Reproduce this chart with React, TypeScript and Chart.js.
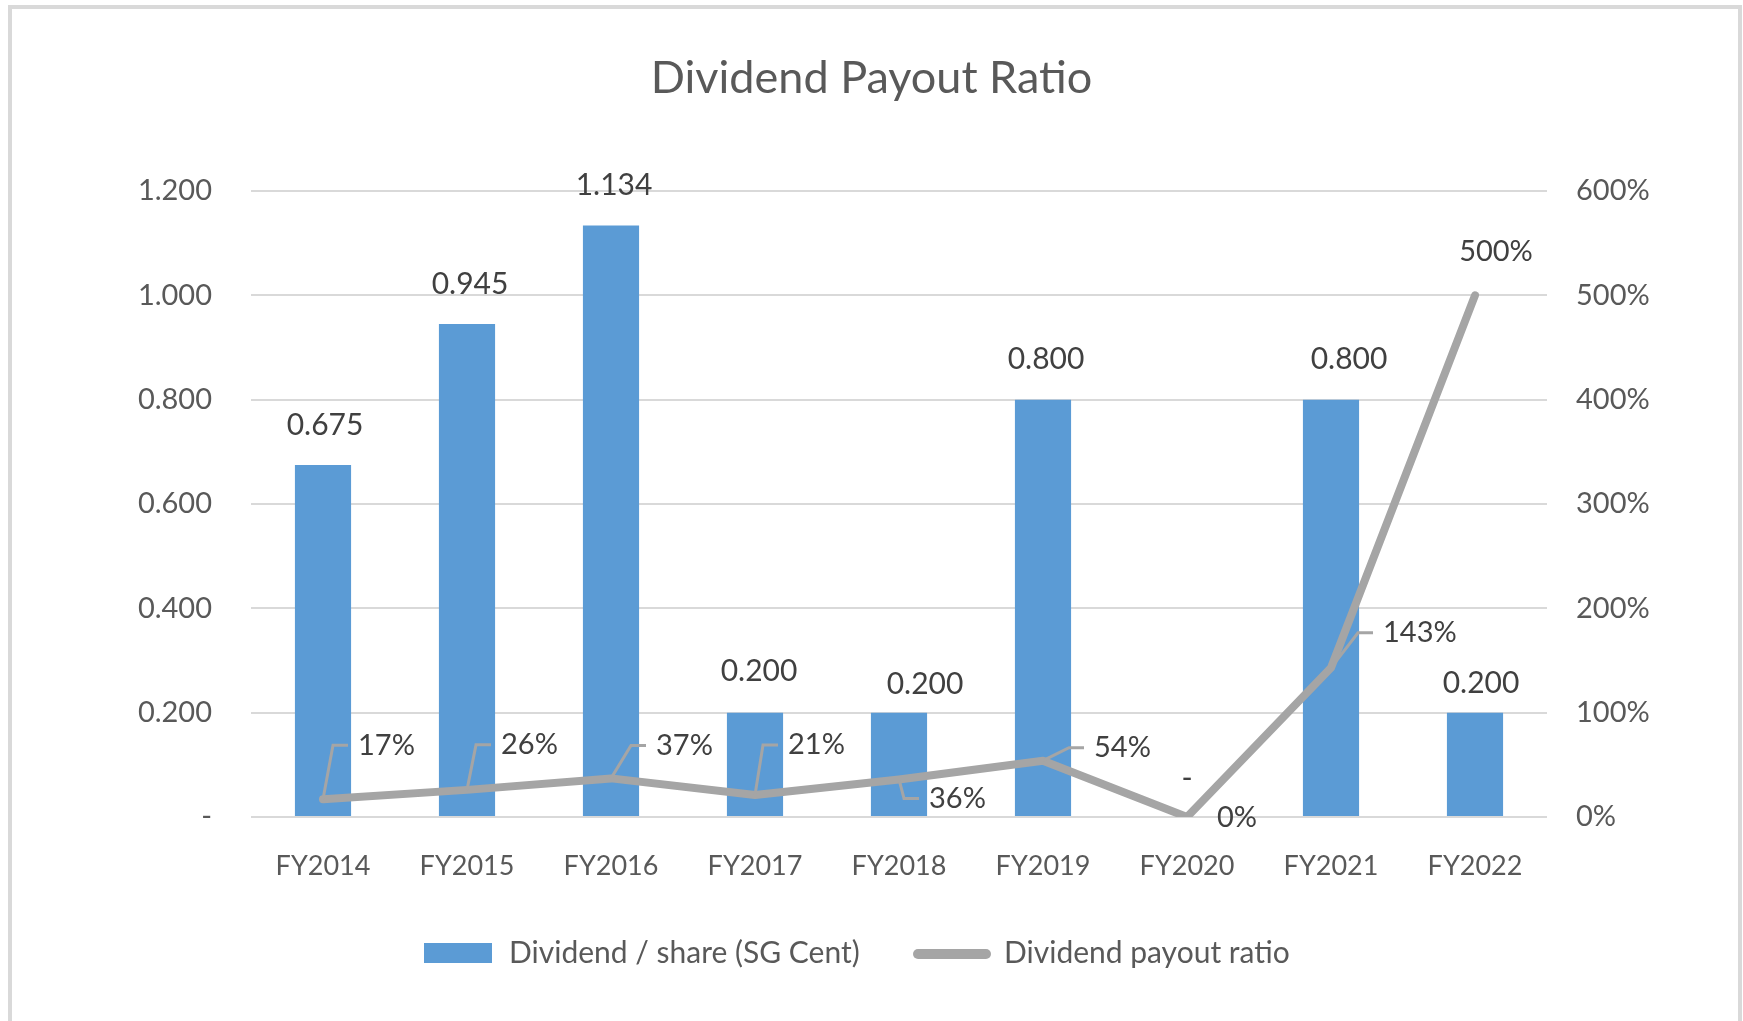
import { useEffect, useRef } from 'react';
import { Chart, registerables } from 'chart.js';

Chart.register(...registerables);

// ---------- data ----------
const categories = ['FY2014', 'FY2015', 'FY2016', 'FY2017', 'FY2018', 'FY2019', 'FY2020', 'FY2021', 'FY2022'];
const dividendPerShare = [0.675, 0.945, 1.134, 0.2, 0.2, 0.8, 0, 0.8, 0.2];
const payoutRatioPct = [17, 26, 37, 21, 36, 54, 0, 143, 500];
const leftTickLabels = ['-', '0.200', '0.400', '0.600', '0.800', '1.000', '1.200'];
const rightTickLabels = ['0%', '100%', '200%', '300%', '400%', '500%', '600%'];
const seriesNames = ['Dividend / share (SG Cent)', 'Dividend payout ratio'];
const chartTitle = 'Dividend Payout Ratio';

// ---------- styling ----------
const W = 1743;
const H = 1021;
const FONT = 'Lato, "Open Sans", "Liberation Sans", sans-serif';
const TEXT = '#595959';
const LABEL = '#404040';
const BAR = '#5b9bd5';
const LINE = '#a5a5a5';
const GRID = '#d9d9d9';

// label placement (pixel offsets relative to the point/bar top)
const barLabelLift = [40, 40, 40, 41, 28, 40, 39, 40, 29];
const barLabelShift = [2, 3, 3, 4, 26, 3, 0, 18, 6];
const ratioLabelOffset: [number, number][] = [
  [35, -54], [34, -45], [45, -33], [33, -50], [30, 19], [51, -13], [30, 1], [52, -35], [21, -44],
];
const ratioLabelCentered = [false, false, false, false, false, false, false, false, true];
const ratioLeader = [true, true, true, true, true, true, false, true, false];

const labelsPlugin = {
  id: 'customLabels',
  afterDatasetsDraw(chart: any) {
    const ctx = chart.ctx as CanvasRenderingContext2D;
    const barMeta = chart.getDatasetMeta(0);
    const lineMeta = chart.getDatasetMeta(1);
    ctx.save();
    // bar labels
    ctx.font = `30px ${FONT}`;
    ctx.fillStyle = LABEL;
    ctx.textAlign = 'center';
    ctx.textBaseline = 'middle';
    barMeta.data.forEach((el: any, i: number) => {
      const v = dividendPerShare[i];
      const txt = v === 0 ? '-' : v.toFixed(3);
      ctx.fillText(txt, el.x + barLabelShift[i], el.y - barLabelLift[i]);
    });
    // line labels
    ctx.font = `29px ${FONT}`;
    lineMeta.data.forEach((el: any, i: number) => {
      const [dx, dy] = ratioLabelOffset[i];
      const tx = el.x + dx;
      const ty = el.y + dy;
      const txt = `${payoutRatioPct[i]}%`;
      if (ratioLeader[i]) {
        ctx.strokeStyle = LINE;
        ctx.lineWidth = 3;
        ctx.beginPath();
        ctx.moveTo(el.x, el.y);
        ctx.lineTo(tx - 25, ty);
        ctx.lineTo(tx - 10, ty);
        ctx.stroke();
      }
      ctx.fillStyle = LABEL;
      ctx.textAlign = ratioLabelCentered[i] ? 'center' : 'left';
      ctx.fillText(txt, tx, ty);
    });
    ctx.restore();
  },
  afterDraw(chart: any) {
    // legend
    const ctx = chart.ctx as CanvasRenderingContext2D;
    const cy = 953;
    ctx.save();
    ctx.fillStyle = BAR;
    ctx.fillRect(424, cy - 10, 68, 20);
    ctx.font = `30px ${FONT}`;
    ctx.fillStyle = TEXT;
    ctx.textBaseline = 'middle';
    ctx.textAlign = 'left';
    ctx.fillText(seriesNames[0], 509, cy);
    ctx.strokeStyle = LINE;
    ctx.lineWidth = 10;
    ctx.lineCap = 'round';
    ctx.beginPath();
    ctx.moveTo(918, cy + 1);
    ctx.lineTo(986, cy + 1);
    ctx.stroke();
    ctx.fillText(seriesNames[1], 1004, cy);
    ctx.restore();
  },
};

export default function App() {
  const ref = useRef<HTMLCanvasElement>(null);
  useEffect(() => {
    if (!ref.current) return;
    const chart = new Chart(ref.current, {
      type: 'bar',
      data: {
        labels: categories,
        datasets: [
          {
            type: 'bar',
            label: seriesNames[0],
            data: dividendPerShare,
            backgroundColor: BAR,
            barPercentage: 0.39,
            categoryPercentage: 1,
            yAxisID: 'y',
            order: 1,
          },
          {
            type: 'line',
            label: seriesNames[1],
            data: payoutRatioPct,
            borderColor: LINE,
            backgroundColor: LINE,
            borderWidth: 8,
            pointRadius: 0,
            tension: 0,
            borderJoinStyle: 'round',
            borderCapStyle: 'round',
            yAxisID: 'y1',
            order: 0,
          } as any,
        ],
      },
      options: {
        responsive: false,
        animation: false,
        devicePixelRatio: 1,
        layout: { padding: { top: 0, left: 0, right: 0, bottom: 120 } },
        plugins: {
          legend: { display: false },
          tooltip: { enabled: false },
          title: {
            display: true,
            text: chartTitle,
            color: TEXT,
            font: { family: FONT, size: 45, weight: 'normal' },
            padding: { top: 51, bottom: 86 },
          },
        },
        scales: {
          x: {
            grid: { display: false, drawTicks: false },
            border: { display: false },
            ticks: { color: TEXT, font: { family: FONT, size: 27 }, padding: 33, maxRotation: 0 },
            afterFit: (s: any) => { s.height = 84; },
          },
          y: {
            position: 'left',
            min: 0,
            max: 1.2,
            ticks: {
              stepSize: 0.2,
              color: TEXT,
              font: { family: FONT, size: 29 },
              padding: 39,
              callback: (_v: any, i: number) => leftTickLabels[i],
            },
            grid: { color: GRID, lineWidth: 2, drawTicks: false },
            border: { display: false },
            afterFit: (s: any) => { s.width = 251; },
          },
          y1: {
            position: 'right',
            min: 0,
            max: 600,
            ticks: {
              stepSize: 100,
              color: TEXT,
              font: { family: FONT, size: 29 },
              padding: 29,
              callback: (_v: any, i: number) => rightTickLabels[i],
            },
            grid: { display: false, drawTicks: false },
            border: { display: false },
            afterFit: (s: any) => { s.width = 196; },
          },
        },
      },
      plugins: [labelsPlugin],
    });
    return () => chart.destroy();
  }, []);

  return (
    <div style={{ position: 'fixed', left: 0, top: 0, width: W, height: H, background: '#fff', overflow: 'hidden' }}>
      <div
        style={{
          position: 'absolute',
          left: 8,
          top: 5,
          width: 1726,
          height: 1100,
          borderTop: `4px solid ${GRID}`,
          borderLeft: `4px solid ${GRID}`,
          borderRight: `4px solid ${GRID}`,
        }}
      />
      <canvas ref={ref} width={W} height={H} style={{ position: 'absolute', left: 0, top: 0, width: W, height: H }} />
    </div>
  );
}
